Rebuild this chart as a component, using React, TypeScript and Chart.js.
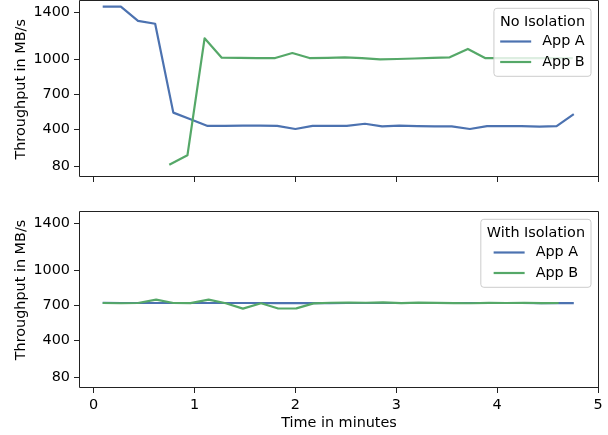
import React, { useEffect, useRef } from 'react';
import { Chart, registerables } from 'chart.js';

Chart.register(...registerables);

const FONT_FAMILY = "'DejaVu Sans', sans-serif";
const FONT_SIZE = 14.4;
const TEXT_COLOR = '#000000';
const AXIS_COLOR = '#222222';
const LEGEND_EDGE = '#cccccc';
const BLUE = '#4C72B0';
const GREEN = '#55A868';

const xTickValues = [0, 1, 2, 3, 4, 5];
const yTickValues = [80, 400, 700, 1000, 1400];
const seriesNames = ['App A', 'App B'];
const panelTitles = ['No Isolation', 'With Isolation'];
const yAxisLabel = 'Throughput in MB/s';
const xAxisLabel = 'Time in minutes';

// App A timestamps (minutes)
const timeA = [0.09, 0.27, 0.44, 0.61, 0.79, 0.96, 1.13, 1.30, 1.48, 1.65, 1.82, 2.00, 2.17, 2.34,
  2.51, 2.69, 2.86, 3.03, 3.21, 3.38, 3.55, 3.73, 3.90, 4.07, 4.24, 4.42, 4.59, 4.76];
// No isolation
const noIsoA = [1451, 1451, 1329, 1305, 543, 487, 429, 429, 431, 431, 429, 403, 429, 430,
  429, 448, 426, 431, 428, 426, 426, 403, 428, 427, 427, 424, 428, 531];
const timeBNoIso = [0.75, 0.93, 1.10, 1.27, 1.45, 1.62, 1.80, 1.97, 2.14, 2.32, 2.49, 2.66,
  2.84, 3.01, 3.18, 3.36, 3.53, 3.71, 3.88, 4.05, 4.23, 4.40, 4.58, 4.75];
const noIsoB = [97, 177, 1180, 1014, 1013, 1011, 1011, 1054, 1011, 1013, 1017, 1011,
  1000, 1003, 1007, 1013, 1017, 1089, 1011, 1011, 1011, 1011, 1011, 1011];
// With isolation
const withIsoA = [721, 720, 720, 720, 720, 720, 720, 720, 720, 720, 719, 719, 719, 719,
  720, 720, 720, 720, 720, 720, 720, 720, 720, 720, 720, 719, 719, 719];
const timeBWithIso = [0.09, 0.27, 0.44, 0.62, 0.79, 0.96, 1.14, 1.31, 1.48, 1.66, 1.83, 2.01,
  2.18, 2.35, 2.53, 2.70, 2.87, 3.05, 3.22, 3.40, 3.57, 3.74, 3.92, 4.09, 4.27, 4.44, 4.61];
const withIsoB = [720, 718, 720, 749, 720, 719, 749, 718, 672, 718, 673, 674,
  717, 722, 724, 722, 725, 719, 724, 721, 719, 718, 721, 720, 722, 719, 720];

const font = { family: FONT_FAMILY, size: FONT_SIZE };

function pts(xs: number[], ys: number[]) {
  return xs.map((x, i) => ({ x, y: ys[i] }));
}

function decorPlugin(legendTitle: string, yLabelCenter: number) {
  return {
    id: 'decor',
    afterDraw(chart: any) {
      const { ctx, chartArea } = chart;
      const { left, right, top, bottom } = chartArea;
      ctx.save();
      // frame
      ctx.strokeStyle = AXIS_COLOR;
      ctx.lineWidth = 1;
      ctx.beginPath();
      ctx.moveTo(left - 0.5, top - 0.5);
      ctx.lineTo(right + 0.5, top - 0.5);
      ctx.lineTo(right + 0.5, bottom + 0.5);
      ctx.lineTo(left - 0.5, bottom + 0.5);
      ctx.closePath();
      ctx.stroke();

      // legend
      ctx.font = `${FONT_SIZE}px ${FONT_FAMILY}`;
      const padX = 6, lineLen = 31, gap = 11;
      const titleW = ctx.measureText(legendTitle).width;
      const labelW = Math.max(...seriesNames.map((n) => ctx.measureText(n).width));
      const itemW = lineLen + gap + labelW;
      const innerW = Math.max(titleW, itemW);
      const boxW = innerW + 2 * padX;
      const boxH = 68;
      const bx = right - 7 - boxW;
      const by = top + 7.3;
      ctx.beginPath();
      (ctx as any).roundRect(bx, by, boxW, boxH, 3);
      ctx.fillStyle = 'rgba(255,255,255,0.8)';
      ctx.fill();
      ctx.strokeStyle = LEGEND_EDGE;
      ctx.lineWidth = 1;
      ctx.stroke();
      ctx.fillStyle = TEXT_COLOR;
      ctx.textAlign = 'center';
      ctx.textBaseline = 'alphabetic';
      ctx.fillText(legendTitle, bx + boxW / 2, by + 17.2);
      const ix = bx + padX + (innerW - itemW) / 2;
      [BLUE, GREEN].forEach((c, i) => {
        const ly = by + 33.2 + i * 20.5;
        ctx.strokeStyle = c;
        ctx.lineWidth = 2.2;
        ctx.beginPath();
        ctx.moveTo(ix, ly);
        ctx.lineTo(ix + lineLen, ly);
        ctx.stroke();
        ctx.fillStyle = TEXT_COLOR;
        ctx.textAlign = 'left';
        ctx.fillText(seriesNames[i], ix + lineLen + gap, by + 36.6 + i * 21);
      });

      // y axis label
      ctx.save();
      ctx.translate(25, yLabelCenter);
      ctx.rotate(-Math.PI / 2);
      ctx.textAlign = 'center';
      ctx.textBaseline = 'alphabetic';
      ctx.fillStyle = TEXT_COLOR;
      ctx.fillText(yAxisLabel, 0, 0);
      ctx.restore();
      ctx.restore();
    },
  };
}

function makeConfig(
  aX: number[], aY: number[], bX: number[], bY: number[],
  legendTitle: string, showXLabels: boolean, topPad: number, xHeight: number, yLabelCenter: number
): any {
  const lineBase = {
    borderWidth: 2.2,
    pointRadius: 0,
    tension: 0,
    fill: false,
    borderJoinStyle: 'round',
    borderCapStyle: 'butt',
  };
  return {
    type: 'line',
    data: {
      datasets: [
        { ...lineBase, label: seriesNames[0], data: pts(aX, aY), borderColor: BLUE, backgroundColor: BLUE, order: 1 },
        { ...lineBase, label: seriesNames[1], data: pts(bX, bY), borderColor: GREEN, backgroundColor: GREEN, order: 0 },
      ],
    },
    options: {
      animation: false,
      responsive: false,
      devicePixelRatio: 1,
      layout: { padding: { top: topPad, right: 10, left: 0, bottom: 0 } },
      plugins: { legend: { display: false }, tooltip: { enabled: false }, title: { display: false } },
      scales: {
        x: {
          type: 'linear',
          min: -0.135,
          max: 5,
          afterBuildTicks: (s: any) => { s.ticks = xTickValues.map((v) => ({ value: v })); },
          afterFit: (s: any) => { s.height = xHeight; s.paddingLeft = 0; s.paddingRight = 0; },
          ticks: {
            font,
            color: TEXT_COLOR,
            padding: 4,
            maxRotation: 0,
            autoSkip: false,
            callback: (v: any) => (showXLabels ? String(v) : ''),
          },
          grid: { drawOnChartArea: false, drawTicks: true, tickLength: 6, color: AXIS_COLOR, lineWidth: 1 },
          border: { display: false },
          title: {
            display: showXLabels,
            text: xAxisLabel,
            font,
            color: TEXT_COLOR,
            padding: { top: 0, bottom: 3 },
          },
        },
        y: {
          type: 'linear',
          min: 0,
          max: 1500,
          afterBuildTicks: (s: any) => { s.ticks = yTickValues.map((v) => ({ value: v })); },
          afterFit: (s: any) => { s.width = 80; s.paddingTop = 0; s.paddingBottom = 0; },
          ticks: { font, color: TEXT_COLOR, padding: 4, autoSkip: false, callback: (v: any) => String(v) },
          grid: { drawOnChartArea: false, drawTicks: true, tickLength: 6, color: AXIS_COLOR, lineWidth: 1 },
          border: { display: false },
        },
      },
    },
    plugins: [decorPlugin(legendTitle, yLabelCenter)],
  };
}

export default function App() {
  const topRef = useRef<HTMLCanvasElement | null>(null);
  const botRef = useRef<HTMLCanvasElement | null>(null);

  useEffect(() => {
    const c1 = new Chart(
      topRef.current as HTMLCanvasElement,
      makeConfig(timeA, noIsoA, timeBNoIso, noIsoB, panelTitles[0], false, 1, 24, 89.3)
    );
    const c2 = new Chart(
      botRef.current as HTMLCanvasElement,
      makeConfig(timeA, withIsoA, timeBWithIso, withIsoB, panelTitles[1], true, 12, 48, 90)
    );
    return () => {
      c1.destroy();
      c2.destroy();
    };
  }, []);

  return (
    <div style={{ position: 'absolute', left: 0, top: 0, width: 608, height: 435, background: '#fff' }}>
      <canvas ref={topRef} width={608} height={200} style={{ position: 'absolute', left: 0, top: 0, width: 608, height: 200 }} />
      <canvas ref={botRef} width={608} height={235} style={{ position: 'absolute', left: 0, top: 200, width: 608, height: 235 }} />
    </div>
  );
}
